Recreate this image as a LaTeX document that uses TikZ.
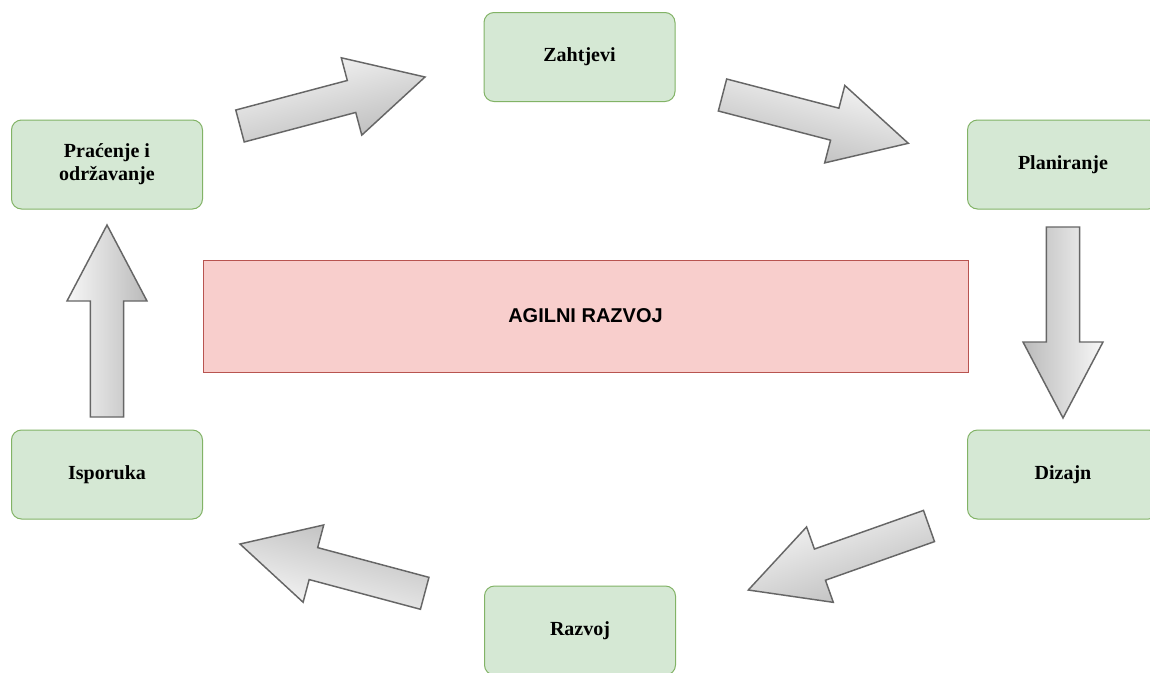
\documentclass[tikz,border=0pt]{standalone}
\usepackage{fontspec}
\setmainfont{Liberation Serif}
\newfontfamily\corefont{Liberation Sans}
\usepackage{tikz}
\usetikzlibrary{calc}
\definecolor{phasefill}{HTML}{D5E8D4}
\definecolor{phaseline}{HTML}{82B366}
\definecolor{corefill}{HTML}{F8CECC}
\definecolor{coreline}{HTML}{B85450}
\definecolor{arrowline}{HTML}{666666}
\tikzset{phase/.style={draw=phaseline,fill=phasefill,line width=.75pt,rounded corners=7.5pt,minimum width=143.25pt,minimum height=66.75pt,align=center,font=\bfseries\fontsize{15}{17}\selectfont},
core/.style={draw=coreline,fill=corefill,line width=.75pt,minimum width=573.75pt,minimum height=84pt,font=\corefont\bfseries\fontsize{15}{17}\selectfont},
bigarrow/.style={draw=arrowline,line width=1.1pt,top color=black!3,bottom color=black!27}}
\newcommand{\blockarrow}[3]{% tail, tip, shading angle
\coordinate (hb) at ($(#2)!57pt!(#1)$);
\draw[bigarrow,shading angle=#3] ($(#1)!12.4pt!90:(#2)$) -- ($(hb)!12.4pt!90:(#2)$) -- ($(hb)!30pt!90:(#2)$) -- (#2) -- ($(hb)!30pt!-90:(#2)$) -- ($(hb)!12.4pt!-90:(#2)$) -- ($(#1)!12.4pt!-90:(#2)$) -- cycle;}

\begin{document}
\begin{tikzpicture}[x=.75pt,y=-.75pt]
\clip (0,0) rectangle (1150,672);
\fill[white] (0,0) rectangle (1150,672);
% phases
\node[phase] (req) at (579.5,57) {Zahtjevi};
\node[phase] (plan) at (1063,164.5) {Planiranje};
\node[phase] (design) at (1063,474.5) {Dizajn};
\node[phase] (dev) at (580,630.5) {Razvoj};
\node[phase] (deliv) at (107,474.5) {Isporuka};
\node[phase] (maint) at (107,164.5) {Praćenje i\\održavanje};
\node[core] (agile) at (585.5,316) {AGILNI RAZVOJ};
% arrow ends
\coordinate (maint-out) at (240,126);   \coordinate (req-in) at (425,77);
\coordinate (req-out) at (722.5,95);    \coordinate (plan-in) at (908.3,143.3);
\coordinate (plan-out) at (1063,227);   \coordinate (design-in) at (1063,418);
\coordinate (design-out) at (929,526);  \coordinate (dev-in) at (748.3,590);
\coordinate (dev-out) at (424.7,593.3); \coordinate (deliv-in) at (240,544);
\coordinate (deliv-out) at (107,417);   \coordinate (maint-in) at (107,225);
\blockarrow{maint-out}{req-in}{14.8}
\blockarrow{req-out}{plan-in}{345.4}
\blockarrow{plan-out}{design-in}{270}
\blockarrow{design-out}{dev-in}{19.5}
\blockarrow{dev-out}{deliv-in}{165}
\blockarrow{deliv-out}{maint-in}{90}
\end{tikzpicture}
\end{document}
